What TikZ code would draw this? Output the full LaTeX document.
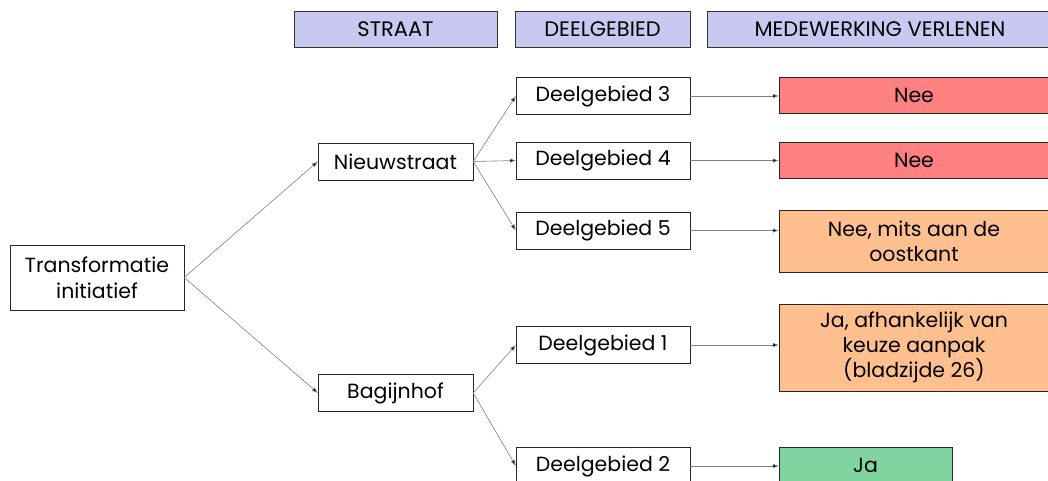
\documentclass[tikz,border=0pt]{standalone}
\usepackage{fontspec}
\setmainfont{Poppins}
\usetikzlibrary{arrows.meta}
\definecolor{hdrfill}{RGB}{200,200,240}
\definecolor{neefill}{RGB}{255,128,128}
\definecolor{mitsfill}{RGB}{255,191,143}
\definecolor{jafill}{RGB}{128,212,160}

\begin{document}
\begin{tikzpicture}[x=1pt,y=-1pt,
  hdr/.style={draw=black!80,fill=hdrfill,minimum height=36pt,inner sep=0pt,font=\fontsize{21}{24}\selectfont},
  box/.style={draw=black!85,fill=white,minimum height=37pt,inner sep=0pt,font=\fontsize{20.5}{26}\selectfont,align=center},
  res/.style={draw=black!85,minimum width=270pt,inner sep=0pt,font=\fontsize{20.5}{25}\selectfont,align=center},
  link/.style={draw=black!50,line width=0.6pt,-{Latex[length=6pt,width=4.5pt,fill=black]}}]
\useasboundingbox (0,0) rectangle (1048,481);
% koppen
\path (395.5,29.5) node(hstraat)[hdr,minimum width=203pt]{STRAAT}
(602.5,29.5) node(hdeel)[hdr,minimum width=175pt]{DEELGEBIED}
(880,29.5) node(hmede)[hdr,minimum width=346pt]{MEDEWERKING VERLENEN};
% straten
\path (97,277.5) node(init)[box,minimum width=174pt,minimum height=65pt]{Transformatie\\initiatief}
(395.5,161.5) node(nieuw)[box,minimum width=155pt]{Nieuwstraat}
(395.5,393) node(bagijn)[box,minimum width=155pt]{Bagijnhof};
% deelgebieden
\path (603,96) node(d3)[box,minimum width=174pt]{Deelgebied 3}
(603,160.5) node(d4)[box,minimum width=174pt]{Deelgebied 4}
(603,230.5) node(d5)[box,minimum width=174pt]{Deelgebied 5}
(603,345) node(d1)[box,minimum width=174pt]{Deelgebied 1}
(603,466) node(d2)[box,minimum width=174pt]{Deelgebied 2};
% medewerking
\path (914,95) node(r3)[res,fill=neefill,minimum height=36pt]{Nee}
(914,160) node(r4)[res,fill=neefill,minimum height=36pt]{Nee}
(914,241) node(r5)[res,fill=mitsfill,minimum height=62pt]{Nee, mits aan de\\oostkant}
(914,347.5) node(r1)[res,fill=mitsfill,minimum height=87pt]{Ja, afhankelijk van\\keuze aanpak\\(bladzijde 26)}
(865.5,465.5) node(r2)[res,fill=jafill,minimum width=173pt,minimum height=37pt]{Ja};
% pijlen
\draw[link] (init.east) -- (nieuw.west);
\draw[link] (init.east) -- (bagijn.west);
\draw[link] (nieuw.east) -- (d3.west);
\draw[link] (nieuw.east) -- (d4.west);
\draw[link] (nieuw.east) -- (d5.west);
\draw[link] (bagijn.east) -- (d1.west);
\draw[link] (bagijn.east) -- (d2.west);
\draw[link] (d3.east) -- (r3.west|-d3.east);
\draw[link] (d4.east) -- (r4.west|-d4.east);
\draw[link] (d5.east) -- (r5.west|-d5.east);
\draw[link] (d1.east) -- (r1.west|-d1.east);
\draw[link] (d2.east) -- (r2.west|-d2.east);
\end{tikzpicture}
\end{document}
